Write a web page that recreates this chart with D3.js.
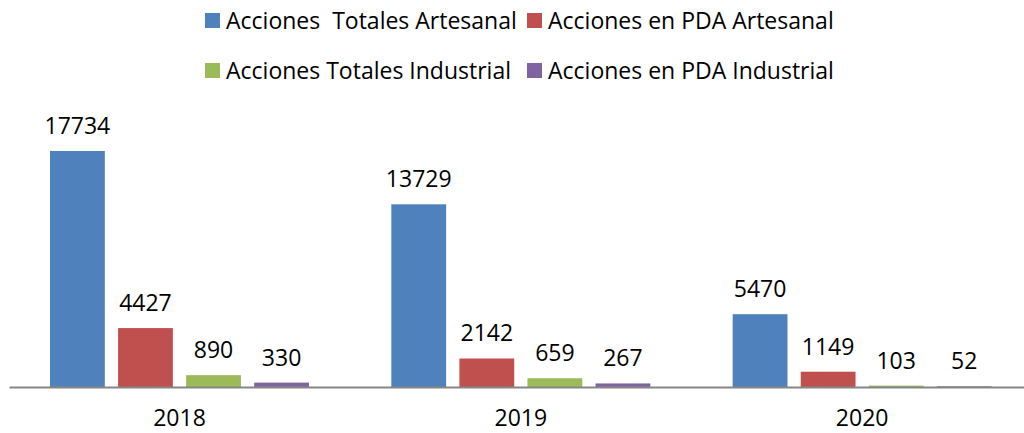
<!DOCTYPE html>
<meta charset="utf-8">
<script src="https://d3js.org/d3.v7.min.js"></script>
<style>
  body { margin: 0; background: #fff; }
  text { font-family: "Open Sans", Lato, sans-serif; fill: #000; }
</style>
<div id="chart"></div>
<script>
// data
var years = ["2018", "2019", "2020"];
var seriesNames = ["Acciones  Totales Artesanal", "Acciones en PDA Artesanal",
                   "Acciones Totales Industrial", "Acciones en PDA Industrial"];
var totalesArtesanal = [17734, 13729, 5470];
var pdaArtesanal = [4427, 2142, 1149];
var totalesIndustrial = [890, 659, 103];
var pdaIndustrial = [330, 267, 52];
var colors = ["#4F81BD", "#C0504D", "#9BBB59", "#8064A2"];

var series = [totalesArtesanal, pdaArtesanal, totalesIndustrial, pdaIndustrial];

var width = 1024, height = 433;
var svg = d3.select("#chart").append("svg")
    .attr("width", width)
    .attr("height", height);

// scales
var x0 = d3.scaleBand()
    .domain(years)
    .range([9, 1033]);

var x1 = d3.scaleBand()
    .domain(d3.range(series.length))
    .range([41, 300])
    .paddingInner(13.3 / 68.3)
    .paddingOuter(0);

var y = d3.scaleLinear()
    .domain([0, 17734])
    .range([387, 151]);

// bars
var groups = svg.append("g").selectAll("g")
    .data(years)
    .enter().append("g")
    .attr("transform", function(d) { return "translate(" + x0(d) + ",0)"; });

groups.selectAll("rect")
    .data(function(d, i) { return series.map(function(s, k) { return {k: k, v: s[i]}; }); })
    .enter().append("rect")
    .attr("x", function(d) { return x1(d.k); })
    .attr("width", x1.bandwidth())
    .attr("y", function(d) { return y(d.v); })
    .attr("height", function(d) { return y(0) - y(d.v); })
    .attr("fill", function(d) { return colors[d.k]; });

// value labels
groups.selectAll("text")
    .data(function(d, i) { return series.map(function(s, k) { return {k: k, v: s[i]}; }); })
    .enter().append("text")
    .attr("x", function(d) { return x1(d.k) + x1.bandwidth() / 2; })
    .attr("y", function(d) { return y(d.v) - 17; })
    .attr("text-anchor", "middle")
    .style("font-size", "23px")
    .text(function(d) { return d.v; });

// x axis (labels centred under each bar group)
var xAxis = svg.append("g")
    .attr("transform", "translate(0,387)")
    .call(d3.axisBottom(x0).tickSize(0).tickPadding(23));
xAxis.select(".domain").attr("stroke", "#868686").attr("stroke-width", 2);
xAxis.selectAll(".tick").attr("transform", function(d) { return "translate(" + (x0(d) + 170.5) + ",0)"; });
xAxis.selectAll("text").style("font-size", "23px").style("font-family", "'Open Sans', Lato, sans-serif");

// legend
var legendPos = [[205, 21], [527, 21], [205, 71], [527, 71]];
var legend = svg.append("g").selectAll("g")
    .data(seriesNames)
    .enter().append("g")
    .attr("transform", function(d, i) { return "translate(" + legendPos[i][0] + "," + legendPos[i][1] + ")"; });

legend.append("rect")
    .attr("x", 0).attr("y", -8)
    .attr("width", 15).attr("height", 15)
    .attr("fill", function(d, i) { return colors[i]; });

legend.append("text")
    .attr("x", 21)
    .attr("dy", "0.35em")
    .style("font-size", "23px")
    .style("white-space", "pre")
    .text(function(d) { return d; });
</script>
